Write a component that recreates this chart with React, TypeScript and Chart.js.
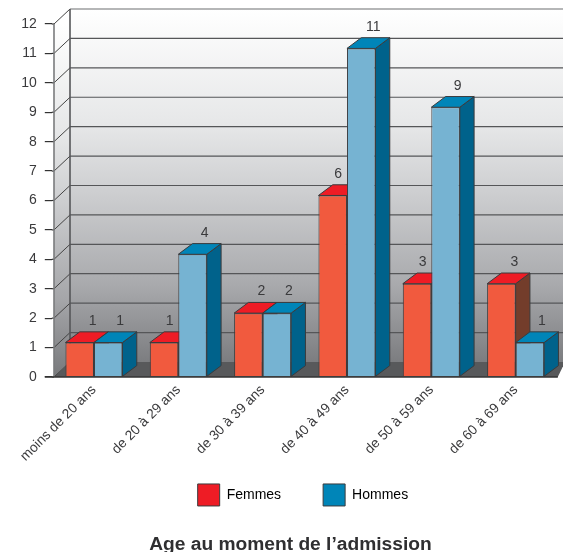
import React, { useEffect, useRef } from "react";
import { Chart, registerables } from "chart.js";

Chart.register(...registerables);

const categories = ["moins de 20 ans", "de 20 à 29 ans", "de 30 à 39 ans", "de 40 à 49 ans", "de 50 à 59 ans", "de 60 à 69 ans"];
const femmes = [1, 1, 2, 6, 3, 3];
const hommes = [1, 4, 2, 11, 9, 1];
const yTicks = [0, 1, 2, 3, 4, 5, 6, 7, 8, 9, 10, 11, 12];
const titleText = "Age au moment de l’admission";

const FONT = "'Liberation Sans', Arial, sans-serif";
const TEXT = "#3a3a3c";
const EDGE = "#3b3b3d";
const colors = {
  F: { front: "#F15A3E", top: "#EE1C25", side: "#733D2B" },
  H: { front: "#76B3D2", top: "#0085B8", side: "#00628B" },
};
const BAR_DX = 14.3;
const BAR_DY = 10.7;
const BAR_LIFT = 5;
const WALL_DX = 16;
const WALL_DY = 15;
const INSET = 2.2;

const poly = (ctx: CanvasRenderingContext2D, pts: number[][], fill: string | CanvasGradient, stroke?: string, lw = 1) => {
  ctx.beginPath();
  pts.forEach((p, i) => (i ? ctx.lineTo(p[0], p[1]) : ctx.moveTo(p[0], p[1])));
  ctx.closePath();
  ctx.fillStyle = fill;
  ctx.fill();
  if (stroke) {
    ctx.strokeStyle = stroke;
    ctx.lineWidth = lw;
    ctx.stroke();
  }
};

const line = (ctx: CanvasRenderingContext2D, x1: number, y1: number, x2: number, y2: number, color: string, lw = 1) => {
  ctx.beginPath();
  ctx.moveTo(x1, y1);
  ctx.lineTo(x2, y2);
  ctx.strokeStyle = color;
  ctx.lineWidth = lw;
  ctx.stroke();
};

const threeD = {
  id: "threeD",
  afterLayout(chart: any) {
    const lg = chart.legend;
    lg.left += 24;
    lg.right += 24;
    lg.top += 3;
    lg.bottom += 3;
    const tb = chart.titleBlock;
    tb.left += 11.5;
    tb.right += 11.5;
    tb.top += 4;
    tb.bottom += 4;
    chart.scales.x.bottom += 70;
  },
  afterDatasetsUpdate(chart: any) {
    chart.data.datasets.forEach((_: any, d: number) => {
      chart.getDatasetMeta(d).data.forEach((el: any) => {
        el.y -= BAR_LIFT;
      });
    });
  },
  beforeDatasetsDraw(chart: any) {
    const { ctx, chartArea, scales } = chart;
    const y = scales.y;
    const front = chartArea.left + INSET;
    const back = front + WALL_DX;
    const frontRight = chartArea.right;
    const y0 = y.getPixelForValue(0);
    const yMax = y.getPixelForValue(12);
    ctx.save();

    const wall = ctx.createLinearGradient(0, yMax - WALL_DY, 0, y0 - WALL_DY);
    wall.addColorStop(0, "#ffffff");
    wall.addColorStop(0.33, "#e6e7e8");
    wall.addColorStop(0.5, "#d0d1d3");
    wall.addColorStop(0.78, "#a9aaad");
    wall.addColorStop(1, "#7c7d80");
    poly(ctx, [[back, yMax - WALL_DY], [chart.width + 2, yMax - WALL_DY], [chart.width + 2, y0 - WALL_DY], [back, y0 - WALL_DY]], wall);

    const side = ctx.createLinearGradient(0, yMax, 0, y0);
    side.addColorStop(0, "#ffffff");
    side.addColorStop(0.33, "#e4e5e6");
    side.addColorStop(0.5, "#cdced0");
    side.addColorStop(0.78, "#a5a6a9");
    side.addColorStop(1, "#78797c");
    poly(ctx, [[front, yMax], [back, yMax - WALL_DY], [back, y0 - WALL_DY], [front, y0]], side);

    poly(ctx, [[front, y0], [back, y0 - WALL_DY], [chart.width + 2, y0 - WALL_DY], [frontRight, y0]], "#58595b");

    yTicks.forEach((t) => {
      const py = y.getPixelForValue(t);
      if (t > 0) line(ctx, back, py - WALL_DY, chart.width + 2, py - WALL_DY, t === 12 ? "#6d6e70" : "#555658", 1.2);
      line(ctx, chartArea.left, py, front, py, "#333", 1.2);
      line(ctx, front, py, back, py - WALL_DY, "#444", 1);
    });
    line(ctx, front, yMax, front, y0, "#7a7b7d", 1.6);
    line(ctx, back, yMax - WALL_DY, back, y0 - WALL_DY, "#555658", 1.6);

    const f = chart.getDatasetMeta(0).data;
    const h = chart.getDatasetMeta(1).data;
    categories.forEach((_, i) => {
      [[f[i], colors.F], [h[i], colors.H]].forEach(([el, c]: any) => {
        const l = el.x - el.width / 2;
        const r = el.x + el.width / 2;
        const t = el.y;
        const b = el.base;
        poly(ctx, [[r, t], [r + BAR_DX, t - BAR_DY], [r + BAR_DX, b - BAR_DY], [r, b]], c.side, EDGE);
        poly(ctx, [[l, t], [l + BAR_DX, t - BAR_DY], [r + BAR_DX, t - BAR_DY], [r, t]], c.top, EDGE);
      });
    });
    ctx.restore();
  },
  afterDatasetsDraw(chart: any) {
    const { ctx, chartArea, scales } = chart;
    const y0 = scales.y.getPixelForValue(0);
    ctx.save();
    line(ctx, chartArea.left - 7, y0, chartArea.right, y0, "#333", 1.4);
    ctx.font = `14px ${FONT}`;
    ctx.fillStyle = TEXT;
    ctx.textAlign = "center";
    ctx.textBaseline = "middle";
    const f = chart.getDatasetMeta(0).data;
    const h = chart.getDatasetMeta(1).data;
    categories.forEach((_, i) => {
      const hidden = hommes[i] > femmes[i];
      ctx.fillText(String(femmes[i]), f[i].x + (hidden ? 5.5 : 13), f[i].y - 21.5);
      ctx.fillText(String(hommes[i]), h[i].x + 12, h[i].y - 21.5);
    });
    ctx.restore();
  },
};

export default function App() {
  const ref = useRef<HTMLCanvasElement>(null);
  useEffect(() => {
    const chart = new Chart(ref.current as HTMLCanvasElement, {
      type: "bar",
      data: {
        labels: categories,
        datasets: [
          { label: "Femmes", data: femmes, backgroundColor: colors.F.front, borderColor: EDGE, borderWidth: 1 },
          { label: "Hommes", data: hommes, backgroundColor: colors.H.front, borderColor: EDGE, borderWidth: 1 },
        ],
      },
      options: {
        responsive: false,
        animation: false,
        layout: { padding: { top: 24, left: 0, right: 5.2, bottom: 0 } },
        datasets: { bar: { categoryPercentage: 0.676, barPercentage: 1 } },
        scales: {
          x: {
            grid: { display: false },
            border: { display: false },
            afterFit: (s: any) => {
              s.height = 62;
            },
            ticks: {
              minRotation: 45,
              maxRotation: 45,
              autoSkip: false,
              padding: -3,
              color: TEXT,
              font: { family: FONT, size: 13.7 },
            },
          },
          y: {
            min: 0,
            max: 12,
            afterFit: (s: any) => {
              s.width = 51.8;
            },
            afterBuildTicks: (s: any) => {
              s.ticks = yTicks.map((value) => ({ value }));
            },
            grid: { drawOnChartArea: false, drawTicks: true, tickLength: 7, color: "#333", lineWidth: 1.2 },
            border: { display: false },
            ticks: { padding: 8, color: TEXT, font: { family: FONT, size: 14 } },
          },
        },
        plugins: {
          tooltip: { enabled: false },
          title: {
            display: true,
            position: "bottom",
            text: titleText,
            color: "#2f2f31",
            font: { family: FONT, size: 19.2, weight: "bold" },
            padding: { top: 16, bottom: 0 },
          },
          legend: {
            position: "bottom",
            labels: {
              boxWidth: 22,
              boxHeight: 22,
              padding: 42,
              color: TEXT,
              font: { family: FONT, size: 14 },
              generateLabels: () => [
                { text: "Femmes", fillStyle: colors.F.top, strokeStyle: EDGE, lineWidth: 1, datasetIndex: 0 },
                { text: "Hommes", fillStyle: colors.H.top, strokeStyle: EDGE, lineWidth: 1, datasetIndex: 1 },
              ],
            },
          },
        },
      },
      plugins: [threeD],
    } as any);
    return () => chart.destroy();
  }, []);
  return (
    <div style={{ position: "absolute", left: 0, top: 0, width: 563, height: 552 }}>
      <canvas ref={ref} width={563} height={552} style={{ display: "block" }} />
    </div>
  );
}
